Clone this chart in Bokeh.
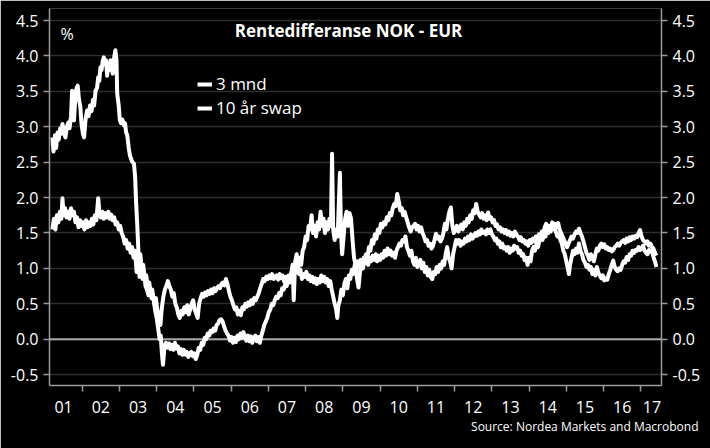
from bokeh.plotting import figure
from bokeh.models import (Range1d, FixedTicker, LinearAxis, PrintfTickFormatter, Span,
                          Label, Legend, LegendItem, Title)
from bokeh.embed import file_html
from bokeh.resources import INLINE

# ---------------- data ----------------
title_text = "Rentedifferanse NOK - EUR"
unit_text = "%"
source_text = "Source: Nordea Markets and Macrobond"
series_names = ["3 mnd", "10 år swap"]

year_labels = ["01", "02", "03", "04", "05", "06", "07", "08", "09",
               "10", "11", "12", "13", "14", "15", "16", "17"]
year_label_pos = [2001.5, 2002.5, 2003.5, 2004.5, 2005.5, 2006.5, 2007.5, 2008.5, 2009.5,
                  2010.5, 2011.5, 2012.5, 2013.5, 2014.5, 2015.5, 2016.5, 2017.3]
year_bounds = [2002, 2003, 2004, 2005, 2006, 2007, 2008, 2009, 2010,
               2011, 2012, 2013, 2014, 2015, 2016, 2017]
y_ticks = [-0.5, 0.0, 0.5, 1.0, 1.5, 2.0, 2.5, 3.0, 3.5, 4.0, 4.5]

mnd3_t = [
    2001.20, 2001.23, 2001.27, 2001.30, 2001.34, 2001.37, 2001.41, 2001.44, 2001.47, 2001.51,
    2001.55, 2001.59, 2001.63, 2001.66, 2001.70, 2001.73, 2001.76, 2001.78, 2001.82, 2001.85,
    2001.88, 2001.91, 2001.95, 2001.98, 2002.02, 2002.05, 2002.09, 2002.13, 2002.17, 2002.21,
    2002.25, 2002.29, 2002.32, 2002.36, 2002.40, 2002.43, 2002.46, 2002.49, 2002.52, 2002.55,
    2002.58, 2002.61, 2002.64, 2002.67, 2002.70, 2002.73, 2002.76, 2002.79, 2002.82, 2002.85,
    2002.89, 2002.92, 2002.94, 2002.98, 2003.01, 2003.04, 2003.08, 2003.12, 2003.15, 2003.18,
    2003.21, 2003.25, 2003.28, 2003.31, 2003.35, 2003.39, 2003.42, 2003.45, 2003.48, 2003.52,
    2003.56, 2003.60, 2003.64, 2003.68, 2003.72, 2003.76, 2003.80, 2003.84, 2003.88, 2003.92,
    2003.96, 2004.00, 2004.04, 2004.08, 2004.11, 2004.14, 2004.17, 2004.21, 2004.25, 2004.29,
    2004.33, 2004.37, 2004.41, 2004.45, 2004.49, 2004.53, 2004.57, 2004.61, 2004.65, 2004.69,
    2004.73, 2004.77, 2004.81, 2004.85, 2004.89, 2004.93, 2004.97, 2005.01, 2005.05, 2005.09,
    2005.13, 2005.17, 2005.21, 2005.25, 2005.29, 2005.33, 2005.37, 2005.41, 2005.45, 2005.49,
    2005.53, 2005.57, 2005.61, 2005.65, 2005.69, 2005.73, 2005.77, 2005.81, 2005.85, 2005.89,
    2005.93, 2005.97, 2006.01, 2006.05, 2006.09, 2006.13, 2006.17, 2006.21, 2006.25, 2006.29,
    2006.33, 2006.37, 2006.41, 2006.45, 2006.49, 2006.53, 2006.57, 2006.61, 2006.65, 2006.69,
    2006.73, 2006.77, 2006.81, 2006.85, 2006.89, 2006.93, 2006.97, 2007.01, 2007.05, 2007.09,
    2007.13, 2007.17, 2007.21, 2007.25, 2007.29, 2007.33, 2007.37, 2007.41, 2007.45, 2007.49,
    2007.53, 2007.57, 2007.61, 2007.65, 2007.68, 2007.72, 2007.76, 2007.80, 2007.84, 2007.88,
    2007.92, 2007.96, 2008.00, 2008.04, 2008.08, 2008.12, 2008.16, 2008.20, 2008.24, 2008.28,
    2008.32, 2008.36, 2008.40, 2008.44, 2008.48, 2008.52, 2008.56, 2008.60, 2008.64, 2008.68,
    2008.71, 2008.74, 2008.78, 2008.82, 2008.86, 2008.92, 2008.95, 2008.98, 2009.02, 2009.06,
    2009.10, 2009.14, 2009.18, 2009.22, 2009.26, 2009.30, 2009.34, 2009.38, 2009.42, 2009.46,
    2009.50, 2009.54, 2009.58, 2009.62, 2009.66, 2009.70, 2009.74, 2009.78, 2009.82, 2009.86,
    2009.90, 2009.94, 2009.98, 2010.02, 2010.06, 2010.10, 2010.14, 2010.18, 2010.22, 2010.26,
    2010.30, 2010.34, 2010.38, 2010.42, 2010.46, 2010.50, 2010.54, 2010.58, 2010.62, 2010.66,
    2010.70, 2010.74, 2010.78, 2010.82, 2010.86, 2010.90, 2010.94, 2010.98, 2011.02, 2011.06,
    2011.10, 2011.14, 2011.18, 2011.22, 2011.26, 2011.30, 2011.34, 2011.38, 2011.42, 2011.46,
    2011.50, 2011.54, 2011.58, 2011.62, 2011.66, 2011.70, 2011.74, 2011.78, 2011.82, 2011.86,
    2011.90, 2011.94, 2011.98, 2012.02, 2012.06, 2012.10, 2012.14, 2012.18, 2012.22, 2012.26,
    2012.30, 2012.34, 2012.38, 2012.42, 2012.46, 2012.50, 2012.54, 2012.58, 2012.62, 2012.66,
    2012.70, 2012.74, 2012.78, 2012.82, 2012.86, 2012.90, 2012.94, 2012.98, 2013.02, 2013.06,
    2013.10, 2013.14, 2013.18, 2013.22, 2013.26, 2013.30, 2013.34, 2013.38, 2013.42, 2013.46,
    2013.50, 2013.54, 2013.58, 2013.62, 2013.66, 2013.70, 2013.74, 2013.78, 2013.82, 2013.86,
    2013.90, 2013.94, 2013.98, 2014.02, 2014.06, 2014.10, 2014.14, 2014.18, 2014.22, 2014.26,
    2014.30, 2014.34, 2014.38, 2014.42, 2014.46, 2014.50, 2014.54, 2014.58, 2014.62, 2014.66,
    2014.70, 2014.74, 2014.78, 2014.82, 2014.86, 2014.90, 2014.94, 2014.98, 2015.02, 2015.06,
    2015.10, 2015.14, 2015.18, 2015.22, 2015.26, 2015.30, 2015.34, 2015.38, 2015.42, 2015.46,
    2015.50, 2015.54, 2015.58, 2015.62, 2015.66, 2015.70, 2015.74, 2015.78, 2015.82, 2015.86,
    2015.90, 2015.94, 2015.98, 2016.02, 2016.06, 2016.10, 2016.14, 2016.18, 2016.22, 2016.26,
    2016.30, 2016.34, 2016.38, 2016.42, 2016.46, 2016.50, 2016.54, 2016.58, 2016.62, 2016.66,
    2016.70, 2016.74, 2016.78, 2016.82, 2016.86, 2016.90, 2016.94, 2016.98, 2017.02, 2017.06,
    2017.10, 2017.14, 2017.18, 2017.22, 2017.26, 2017.30, 2017.34, 2017.38, 2017.42,
]
mnd3_v = [
    2.85, 2.65, 2.88, 2.70, 2.92, 2.82, 2.98, 2.90, 3.04, 2.92,
    2.85, 3.00, 3.06, 2.98, 3.15, 3.51, 3.30, 3.09, 3.45, 3.55,
    3.58, 3.40, 3.28, 3.05, 2.90, 2.85, 3.10, 3.23, 3.15, 3.30,
    3.22, 3.38, 3.30, 3.51, 3.55, 3.70, 3.65, 3.84, 3.80, 3.92,
    3.98, 3.88, 3.94, 3.72, 3.88, 3.80, 3.94, 3.85, 3.75, 3.95,
    4.08, 3.95, 3.47, 3.30, 3.10, 3.05, 3.10, 3.02, 3.05, 2.92,
    2.88, 2.70, 2.60, 2.55, 2.50, 2.48, 2.30, 1.90, 1.60, 1.11,
    1.20, 1.00, 1.05, 0.85, 0.90, 0.75, 0.80, 0.65, 0.70, 0.55,
    0.40, 0.30, 0.15, 0.00, 0.05, -0.20, -0.36, -0.10, -0.05, -0.12,
    -0.06, -0.14, -0.08, -0.15, -0.05, -0.13, -0.10, -0.20, -0.14, -0.22,
    -0.15, -0.22, -0.18, -0.25, -0.20, -0.18, -0.24, -0.20, -0.28, -0.22,
    -0.12, -0.15, -0.05, -0.08, 0.02, 0.00, 0.08, 0.05, 0.12, 0.10,
    0.15, 0.12, 0.20, 0.22, 0.27, 0.28, 0.25, 0.18, 0.12, 0.08,
    0.05, -0.02, 0.03, -0.05, 0.02, -0.04, 0.05, 0.00, 0.08, 0.02,
    0.10, 0.03, -0.02, 0.05, -0.03, 0.04, -0.05, 0.02, 0.05, -0.03,
    0.03, -0.05, 0.05, 0.12, 0.20, 0.25, 0.30, 0.38, 0.42, 0.50,
    0.48, 0.55, 0.60, 0.58, 0.65, 0.62, 0.72, 0.70, 0.78, 0.75,
    0.85, 0.80, 0.90, 1.05, 0.55, 1.10, 1.20, 1.00, 1.15, 1.05,
    1.25, 1.30, 1.45, 1.40, 1.60, 1.55, 1.75, 1.50, 1.60, 1.45,
    1.65, 1.55, 1.80, 1.60, 1.70, 1.50, 1.65, 1.55, 1.70, 1.60,
    2.62, 1.55, 1.40, 1.55, 1.45, 2.35, 1.50, 1.20, 1.45, 1.70,
    1.80, 1.60, 1.78, 1.70, 1.40, 1.15, 1.05, 0.85, 0.73, 0.95,
    1.05, 1.00, 1.12, 1.20, 1.15, 1.30, 1.25, 1.40, 1.35, 1.48,
    1.42, 1.55, 1.50, 1.63, 1.58, 1.65, 1.62, 1.72, 1.68, 1.78,
    1.75, 1.85, 1.91, 1.88, 2.05, 1.95, 1.82, 1.85, 1.75, 1.80,
    1.72, 1.65, 1.58, 1.52, 1.58, 1.60, 1.63, 1.55, 1.60, 1.52,
    1.58, 1.50, 1.45, 1.38, 1.40, 1.32, 1.35, 1.28, 1.32, 1.40,
    1.49, 1.42, 1.45, 1.38, 1.42, 1.50, 1.63, 1.55, 1.70, 1.80,
    1.86, 1.60, 1.50, 1.55, 1.60, 1.52, 1.58, 1.62, 1.55, 1.65,
    1.60, 1.70, 1.65, 1.75, 1.70, 1.82, 1.78, 1.91, 1.80, 1.76,
    1.72, 1.78, 1.70, 1.75, 1.68, 1.79, 1.70, 1.72, 1.65, 1.68,
    1.60, 1.62, 1.55, 1.58, 1.52, 1.55, 1.50, 1.54, 1.48, 1.52,
    1.46, 1.50, 1.45, 1.52, 1.48, 1.45, 1.40, 1.44, 1.38, 1.40,
    1.35, 1.38, 1.32, 1.40, 1.36, 1.42, 1.38, 1.45, 1.40, 1.48,
    1.44, 1.52, 1.48, 1.58, 1.63, 1.55, 1.60, 1.52, 1.65, 1.60,
    1.63, 1.58, 1.64, 1.55, 1.50, 1.45, 1.40, 1.35, 1.30, 1.35,
    1.40, 1.45, 1.42, 1.48, 1.52, 1.50, 1.56, 1.50, 1.45, 1.38,
    1.30, 1.22, 1.18, 1.12, 1.20, 1.15, 1.10, 1.20, 1.28, 1.25,
    1.32, 1.35, 1.30, 1.34, 1.28, 1.30, 1.26, 1.28, 1.24, 1.26,
    1.30, 1.32, 1.35, 1.32, 1.36, 1.38, 1.40, 1.36, 1.42, 1.38,
    1.44, 1.40, 1.45, 1.42, 1.46, 1.44, 1.50, 1.54, 1.45, 1.40,
    1.38, 1.35, 1.38, 1.32, 1.35, 1.30, 1.28, 1.22, 1.18,
]

swap10_t = [
    2001.20, 2001.24, 2001.28, 2001.32, 2001.36, 2001.40, 2001.44, 2001.47, 2001.50, 2001.54,
    2001.58, 2001.62, 2001.66, 2001.70, 2001.74, 2001.78, 2001.82, 2001.86, 2001.90, 2001.94,
    2001.98, 2002.02, 2002.06, 2002.10, 2002.14, 2002.18, 2002.22, 2002.26, 2002.30, 2002.34,
    2002.38, 2002.43, 2002.46, 2002.50, 2002.54, 2002.58, 2002.62, 2002.66, 2002.70, 2002.74,
    2002.78, 2002.82, 2002.86, 2002.90, 2002.94, 2002.98, 2003.02, 2003.06, 2003.10, 2003.14,
    2003.18, 2003.22, 2003.26, 2003.30, 2003.34, 2003.38, 2003.42, 2003.46, 2003.50, 2003.54,
    2003.58, 2003.62, 2003.66, 2003.70, 2003.74, 2003.78, 2003.82, 2003.86, 2003.90, 2003.94,
    2003.98, 2004.02, 2004.06, 2004.10, 2004.14, 2004.18, 2004.22, 2004.26, 2004.30, 2004.34,
    2004.38, 2004.42, 2004.46, 2004.50, 2004.54, 2004.58, 2004.62, 2004.66, 2004.70, 2004.74,
    2004.78, 2004.82, 2004.86, 2004.90, 2004.94, 2004.98, 2005.02, 2005.06, 2005.10, 2005.14,
    2005.18, 2005.22, 2005.26, 2005.30, 2005.34, 2005.38, 2005.42, 2005.46, 2005.50, 2005.54,
    2005.58, 2005.62, 2005.66, 2005.70, 2005.74, 2005.78, 2005.82, 2005.86, 2005.90, 2005.94,
    2005.98, 2006.02, 2006.06, 2006.10, 2006.14, 2006.18, 2006.22, 2006.26, 2006.30, 2006.34,
    2006.38, 2006.42, 2006.46, 2006.50, 2006.54, 2006.58, 2006.62, 2006.66, 2006.70, 2006.74,
    2006.78, 2006.82, 2006.86, 2006.90, 2006.94, 2006.98, 2007.02, 2007.06, 2007.10, 2007.14,
    2007.18, 2007.22, 2007.26, 2007.30, 2007.34, 2007.38, 2007.42, 2007.46, 2007.50, 2007.54,
    2007.58, 2007.62, 2007.66, 2007.70, 2007.74, 2007.78, 2007.82, 2007.86, 2007.90, 2007.94,
    2007.98, 2008.02, 2008.06, 2008.10, 2008.14, 2008.18, 2008.22, 2008.26, 2008.30, 2008.34,
    2008.38, 2008.42, 2008.46, 2008.50, 2008.54, 2008.58, 2008.62, 2008.66, 2008.70, 2008.74,
    2008.78, 2008.82, 2008.85, 2008.88, 2008.92, 2008.96, 2009.00, 2009.04, 2009.08, 2009.12,
    2009.16, 2009.20, 2009.24, 2009.28, 2009.32, 2009.36, 2009.40, 2009.44, 2009.48, 2009.52,
    2009.56, 2009.60, 2009.64, 2009.68, 2009.72, 2009.76, 2009.80, 2009.84, 2009.88, 2009.92,
    2009.96, 2010.00, 2010.04, 2010.08, 2010.12, 2010.16, 2010.20, 2010.24, 2010.28, 2010.32,
    2010.36, 2010.40, 2010.44, 2010.48, 2010.52, 2010.56, 2010.60, 2010.64, 2010.68, 2010.72,
    2010.76, 2010.80, 2010.84, 2010.88, 2010.92, 2010.96, 2011.00, 2011.04, 2011.08, 2011.12,
    2011.16, 2011.20, 2011.24, 2011.28, 2011.32, 2011.36, 2011.40, 2011.44, 2011.48, 2011.52,
    2011.56, 2011.60, 2011.64, 2011.68, 2011.72, 2011.76, 2011.80, 2011.84, 2011.88, 2011.92,
    2011.96, 2012.00, 2012.04, 2012.08, 2012.12, 2012.16, 2012.20, 2012.24, 2012.28, 2012.32,
    2012.36, 2012.40, 2012.44, 2012.48, 2012.52, 2012.56, 2012.60, 2012.64, 2012.68, 2012.72,
    2012.76, 2012.80, 2012.84, 2012.88, 2012.92, 2012.96, 2013.00, 2013.04, 2013.08, 2013.12,
    2013.16, 2013.20, 2013.24, 2013.28, 2013.32, 2013.36, 2013.40, 2013.44, 2013.48, 2013.52,
    2013.56, 2013.60, 2013.64, 2013.68, 2013.72, 2013.76, 2013.80, 2013.84, 2013.88, 2013.92,
    2013.96, 2014.00, 2014.04, 2014.08, 2014.12, 2014.16, 2014.20, 2014.24, 2014.28, 2014.32,
    2014.36, 2014.40, 2014.44, 2014.48, 2014.52, 2014.56, 2014.60, 2014.64, 2014.68, 2014.72,
    2014.76, 2014.80, 2014.84, 2014.88, 2014.92, 2014.96, 2015.00, 2015.04, 2015.07, 2015.10,
    2015.14, 2015.18, 2015.22, 2015.26, 2015.30, 2015.34, 2015.38, 2015.42, 2015.46, 2015.50,
    2015.54, 2015.58, 2015.62, 2015.66, 2015.70, 2015.74, 2015.78, 2015.82, 2015.86, 2015.90,
    2015.94, 2015.98, 2016.02, 2016.06, 2016.10, 2016.14, 2016.18, 2016.22, 2016.26, 2016.30,
    2016.34, 2016.38, 2016.42, 2016.46, 2016.50, 2016.54, 2016.58, 2016.62, 2016.66, 2016.70,
    2016.74, 2016.78, 2016.82, 2016.86, 2016.90, 2016.94, 2016.98, 2017.02, 2017.06, 2017.10,
    2017.14, 2017.18, 2017.22, 2017.26, 2017.30, 2017.34, 2017.38, 2017.42,
]
swap10_v = [
    1.55, 1.70, 1.55, 1.75, 1.65, 1.80, 1.70, 1.99, 1.75, 1.85,
    1.72, 1.80, 1.70, 1.85, 1.75, 1.80, 1.65, 1.72, 1.58, 1.68,
    1.60, 1.65, 1.55, 1.68, 1.58, 1.65, 1.60, 1.70, 1.62, 1.75,
    1.68, 1.99, 1.80, 1.72, 1.80, 1.70, 1.78, 1.72, 1.80, 1.70,
    1.76, 1.68, 1.72, 1.62, 1.65, 1.55, 1.60, 1.50, 1.45, 1.35,
    1.40, 1.28, 1.35, 1.22, 1.30, 1.15, 1.25, 0.95, 1.20, 0.88,
    1.05, 0.85, 0.95, 0.75, 0.70, 0.62, 0.72, 0.58, 0.62, 0.50,
    0.58, 0.40, 0.25, 0.20, 0.45, 0.60, 0.70, 0.75, 0.82, 0.75,
    0.70, 0.60, 0.65, 0.50, 0.45, 0.35, 0.30, 0.40, 0.35, 0.45,
    0.38, 0.48, 0.35, 0.42, 0.50, 0.55, 0.42, 0.36, 0.30, 0.50,
    0.58, 0.64, 0.60, 0.66, 0.62, 0.68, 0.64, 0.70, 0.65, 0.72,
    0.68, 0.72, 0.75, 0.72, 0.78, 0.80, 0.76, 0.85, 0.78, 0.68,
    0.60, 0.55, 0.48, 0.42, 0.45, 0.35, 0.40, 0.34, 0.45, 0.42,
    0.50, 0.46, 0.52, 0.48, 0.55, 0.50, 0.58, 0.55, 0.60, 0.65,
    0.72, 0.78, 0.85, 0.82, 0.88, 0.85, 0.90, 0.86, 0.92, 0.85,
    0.88, 0.90, 0.84, 0.92, 0.86, 0.90, 0.82, 0.88, 0.84, 0.90,
    0.86, 0.95, 0.90, 1.00, 0.95, 1.05, 0.92, 0.98, 0.85, 0.92,
    0.88, 0.95, 0.85, 0.90, 0.82, 0.88, 0.80, 0.86, 0.78, 0.85,
    0.80, 0.90, 0.82, 0.88, 0.80, 0.85, 0.75, 0.82, 0.70, 0.60,
    0.50, 0.42, 0.30, 0.48, 0.55, 0.70, 0.62, 0.78, 0.85, 0.72,
    0.90, 0.85, 0.98, 0.92, 1.05, 0.98, 1.10, 1.02, 1.12, 1.05,
    1.15, 1.08, 1.12, 1.05, 1.15, 1.10, 1.18, 1.12, 1.20, 1.10,
    1.18, 1.12, 1.20, 1.15, 1.25, 1.18, 1.28, 1.20, 1.25, 1.18,
    1.22, 1.15, 1.25, 1.30, 1.35, 1.32, 1.40, 1.38, 1.45, 1.30,
    1.25, 1.18, 1.25, 1.10, 1.05, 1.15, 1.02, 1.08, 1.12, 1.00,
    1.08, 0.95, 1.02, 0.90, 0.98, 0.88, 0.85, 0.95, 0.92, 1.02,
    0.95, 1.05, 1.00, 1.10, 1.05, 1.20, 1.30, 1.15, 1.10, 1.00,
    1.20, 1.30, 1.40, 1.35, 1.40, 1.32, 1.38, 1.35, 1.42, 1.38,
    1.45, 1.40, 1.48, 1.42, 1.45, 1.50, 1.46, 1.52, 1.48, 1.55,
    1.50, 1.52, 1.48, 1.55, 1.50, 1.55, 1.48, 1.45, 1.40, 1.42,
    1.35, 1.38, 1.30, 1.35, 1.28, 1.30, 1.25, 1.30, 1.22, 1.28,
    1.25, 1.32, 1.28, 1.30, 1.22, 1.25, 1.18, 1.20, 1.12, 1.15,
    1.05, 1.15, 1.10, 1.25, 1.30, 1.25, 1.35, 1.30, 1.40, 1.44,
    1.40, 1.48, 1.45, 1.54, 1.50, 1.58, 1.55, 1.62, 1.55, 1.52,
    1.45, 1.48, 1.40, 1.35, 1.25, 1.20, 1.10, 1.00, 0.92, 1.05,
    1.15, 1.25, 1.20, 1.28, 1.22, 1.35, 1.25, 1.20, 1.12, 1.08,
    1.02, 1.05, 0.98, 1.02, 0.92, 0.98, 0.90, 1.02, 0.94, 0.90,
    0.86, 0.90, 0.83, 0.86, 0.84, 0.92, 0.98, 1.05, 1.11, 1.02,
    0.98, 0.96, 1.00, 0.98, 1.05, 1.10, 1.08, 1.16, 1.12, 1.20,
    1.18, 1.25, 1.22, 1.26, 1.25, 1.30, 1.26, 1.28, 1.32, 1.25,
    1.22, 1.20, 1.26, 1.24, 1.25, 1.16, 1.10, 1.02,
]

# ---------------- figure ----------------
FONT = "Open Sans"
GRID = "#2e2e2e"
AXIS = "#9a9a9a"

p = figure(width=710, height=448, frame_width=612, frame_height=377,
           x_range=Range1d(2001.122, 2017.556), y_range=Range1d(-0.654, 4.67),
           output_backend="svg", toolbar_location=None,
           background_fill_color="black", border_fill_color="black",
           outline_line_color=None,
           min_border_left=49, min_border_right=49, min_border_top=8, min_border_bottom=63)

# x axis: labels mid-year, small ticks at year boundaries
xa = p.xaxis[0]
xa.ticker = FixedTicker(ticks=year_label_pos, minor_ticks=year_bounds)
xa.major_label_overrides = {pos: lab for pos, lab in zip(year_label_pos, year_labels)}
xa.major_tick_line_color = None
xa.major_tick_out = 0
xa.major_tick_in = 0
xa.minor_tick_line_color = AXIS
xa.minor_tick_line_width = 1.5
xa.minor_tick_out = 6
xa.minor_tick_in = 0
xa.axis_line_color = AXIS
xa.axis_line_width = 1.5
xa.major_label_standoff = 9
xa.major_label_text_color = "white"
xa.major_label_text_font = FONT
xa.major_label_text_font_size = "16px"

ya = p.yaxis[0]
ya_r = LinearAxis()
p.add_layout(ya_r, "right")
for ax in (ya, ya_r):
    ax.ticker = FixedTicker(ticks=y_ticks)
    ax.formatter = PrintfTickFormatter(format="%.1f")
    ax.axis_line_color = AXIS
    ax.axis_line_width = 1.5
    ax.major_tick_line_color = AXIS
    ax.major_tick_line_width = 1.5
    ax.major_tick_out = 6
    ax.major_tick_in = 0
    ax.minor_tick_line_color = None
    ax.major_label_standoff = 5
    ax.major_label_text_color = "white"
    ax.major_label_text_font = FONT
    ax.major_label_text_font_size = "16px"

p.xgrid.visible = False
p.ygrid.ticker = FixedTicker(ticks=y_ticks)
p.ygrid.grid_line_color = GRID
p.ygrid.grid_line_width = 1.5

p.add_layout(Span(location=0, dimension="width", line_color="#a8a8a8", line_width=2,
                  level="underlay"))

r1 = p.line(mnd3_t, mnd3_v, line_color="white", line_width=4, line_join="round")
r2 = p.line(swap10_t, swap10_v, line_color="white", line_width=4, line_join="round")

legend = Legend(items=[LegendItem(label=series_names[0], renderers=[r1]),
                       LegendItem(label=series_names[1], renderers=[r2])],
                location=(148, 266), orientation="vertical",
                background_fill_alpha=0, border_line_color=None,
                padding=0, margin=0, spacing=1, glyph_width=15, glyph_height=20,
                label_standoff=4, label_text_color="white", label_text_font=FONT,
                label_text_font_size="17px", label_height=20)
p.add_layout(legend, "center")

p.add_layout(Label(x=299, y=355, x_units="screen", y_units="screen", text=title_text,
                   text_align="center", text_baseline="middle", text_color="white",
                   text_font=FONT, text_font_style="bold", text_font_size="17px"))
p.add_layout(Label(x=11, y=352, x_units="screen", y_units="screen", text=unit_text,
                   text_align="left", text_baseline="middle", text_color="white",
                   text_font=FONT, text_font_size="16px"))
p.add_layout(Title(text=source_text, align="right", offset=-37, standoff=0,
                   text_color="white", text_font=FONT, text_font_style="normal",
                   text_font_size="12px"), "below")

open("out.html", "w").write(file_html(p, INLINE))
